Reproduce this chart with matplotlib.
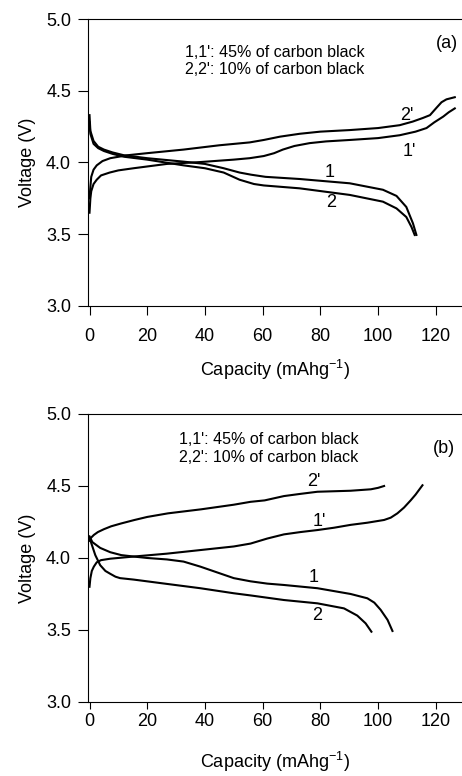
import matplotlib
matplotlib.use("Agg")
import matplotlib.pyplot as plt

plt.rcParams['font.family'] = ['Liberation Sans', 'DejaVu Sans']
plt.rcParams['mathtext.default'] = 'regular'

# panel (a): discharge 1, 2 and charge 1', 2'
a_d1_x = [0, 0.3, 1.4, 3, 5, 8, 12, 20, 32.6, 40, 46.5, 52, 56, 61, 72.8, 90.2, 101.7, 106.4, 109.8, 112.1, 113.3]
a_d1_v = [4.33, 4.22, 4.15, 4.11, 4.09, 4.07, 4.05, 4.03, 4.006, 3.99, 3.96, 3.93, 3.915, 3.90, 3.885, 3.855, 3.81, 3.767, 3.69, 3.576, 3.495]
a_d2_x = [0, 0.3, 1.4, 3, 5, 8, 12, 20, 32.6, 40, 46.5, 52, 57, 60.4, 72.8, 90.2, 101.7, 106.4, 109.8, 111.6, 112.7]
a_d2_v = [4.28, 4.20, 4.13, 4.10, 4.08, 4.06, 4.04, 4.02, 3.98, 3.96, 3.93, 3.88, 3.85, 3.84, 3.82, 3.774, 3.727, 3.68, 3.62, 3.55, 3.495]
a_c1_x = [0, 0.3, 0.6, 1.4, 2.5, 4, 7, 10, 15.3, 26.8, 38.4, 50, 55.5, 60.4, 64, 67, 71, 76.3, 82, 90.2, 100, 107.5, 113, 116.8, 119.5, 122.6, 124.5, 126.6]
a_c1_v = [3.65, 3.75, 3.80, 3.85, 3.88, 3.91, 3.93, 3.945, 3.96, 3.99, 4.003, 4.02, 4.03, 4.045, 4.065, 4.09, 4.115, 4.135, 4.147, 4.157, 4.17, 4.19, 4.215, 4.24, 4.28, 4.32, 4.35, 4.377]
a_c2_x = [0, 0.3, 0.6, 1.4, 2.5, 4.5, 7.2, 12.9, 20, 32.6, 45, 55.5, 60.4, 66, 72.8, 80, 90.2, 100, 107.5, 112, 115.5, 118, 120.2, 122, 123.7, 126.6]
a_c2_v = [3.75, 3.83, 3.90, 3.95, 3.98, 4.01, 4.03, 4.05, 4.065, 4.09, 4.12, 4.14, 4.157, 4.18, 4.20, 4.215, 4.226, 4.24, 4.26, 4.285, 4.31, 4.33, 4.38, 4.42, 4.44, 4.455]

# panel (b)
b_d1_x = [0, 1, 3.7, 7.2, 11, 15.3, 20, 26.8, 32.6, 38.4, 44.2, 50, 55.8, 61.6, 67.4, 79, 90.5, 96.3, 98.7, 100.9, 103.3, 105]
b_d1_v = [4.15, 4.11, 4.07, 4.04, 4.02, 4.01, 4.0, 3.99, 3.975, 3.94, 3.90, 3.86, 3.838, 3.822, 3.8125, 3.79, 3.75, 3.72, 3.69, 3.64, 3.57, 3.493]
b_d2_x = [0, 1, 2, 3.7, 5.5, 7.2, 9, 10.6, 15.3, 26.8, 38.4, 50, 55.8, 67.4, 79, 88.2, 92.8, 95.7, 97.7]
b_d2_v = [4.14, 4.08, 4.02, 3.95, 3.91, 3.89, 3.87, 3.86, 3.85, 3.82, 3.79, 3.755, 3.74, 3.708, 3.685, 3.65, 3.60, 3.546, 3.488]
b_c1_x = [0, 0.3, 0.8, 1.5, 2.5, 4, 7.2, 15.3, 26.8, 38.4, 50, 55.8, 61.6, 67.4, 73.1, 79, 84.7, 90.5, 96.3, 102.1, 104.4, 106.7, 109, 111.3, 113, 115.4]
b_c1_v = [3.80, 3.86, 3.91, 3.94, 3.97, 3.985, 3.995, 4.01, 4.03, 4.055, 4.08, 4.10, 4.135, 4.164, 4.18, 4.194, 4.21, 4.23, 4.245, 4.264, 4.28, 4.31, 4.35, 4.40, 4.44, 4.505]
b_c2_x = [0, 0.5, 1.5, 2.9, 5, 7.5, 11, 15.6, 20, 27.2, 38.7, 50, 55.8, 60.7, 67.4, 73, 79, 90.5, 97.5, 100, 102.1]
b_c2_v = [4.12, 4.14, 4.16, 4.18, 4.20, 4.22, 4.24, 4.264, 4.285, 4.31, 4.338, 4.37, 4.39, 4.40, 4.43, 4.445, 4.46, 4.467, 4.477, 4.487, 4.50]

x_ticks = [0, 20, 40, 60, 80, 100, 120]
y_ticks = [3.0, 3.5, 4.0, 4.5, 5.0]

panels = [
    dict(rect=[0.190, 0.6057, 0.810, 0.3698], tag='(a)', tagpos=(124, 4.83),
         curves=[(a_d1_x, a_d1_v), (a_d2_x, a_d2_v), (a_c1_x, a_c1_v), (a_c2_x, a_c2_v)],
         labels=[("2'", 109.8, 4.33), ("1'", 111, 4.075), ("1", 83.3, 3.927), ("2", 83.9, 3.72)],
         note_y=(4.77, 4.645), note_x=64.2, xlen=6.5, xpad=9, xlabelpad=10),
    dict(rect=[0.190, 0.0954, 0.810, 0.3711], tag='(b)', tagpos=(122.9, 4.76),
         curves=[(b_d1_x, b_d1_v), (b_d2_x, b_d2_v), (b_c1_x, b_c1_v), (b_c2_x, b_c2_v)],
         labels=[("2'", 77.8, 4.53), ("1'", 79.5, 4.25), ("1", 77.8, 3.863), ("2", 78.9, 3.604)],
         note_y=(4.824, 4.699), note_x=62.1, xlen=5, xpad=3, xlabelpad=14),
]

fig = plt.figure(figsize=(4.62, 7.76), dpi=100)

for p in panels:
    ax = fig.add_axes(p['rect'])
    for xs, vs in p['curves']:
        ax.plot(xs, vs, color='black', lw=1.5)
    for txt, x, y in p['labels']:
        ax.text(x, y, txt, fontsize=13, ha='center', va='center')
    ax.text(p['note_x'], p['note_y'][0], "1,1': 45% of carbon black", fontsize=11.5, ha='center', va='center')
    ax.text(p['note_x'], p['note_y'][1], "2,2': 10% of carbon black", fontsize=11.5, ha='center', va='center')
    ax.text(p['tagpos'][0], p['tagpos'][1], p['tag'], fontsize=13, ha='center', va='center')
    ax.set_xlim(-0.6, 129.1)
    ax.set_ylim(3.0, 5.0)
    ax.set_xticks(x_ticks)
    ax.set_yticks(y_ticks)
    ax.set_yticklabels([f'{v:.1f}' for v in y_ticks])
    ax.spines['right'].set_visible(False)
    for s in ['left', 'top', 'bottom']:
        ax.spines[s].set_linewidth(0.8)
    ax.tick_params(axis='both', direction='out', labelsize=13, width=0.8)
    ax.tick_params(axis='y', length=7, pad=5)
    ax.tick_params(axis='x', length=p['xlen'], pad=p['xpad'])
    ax.set_xlabel(r'Capacity (mAhg$^{-1}$)', fontsize=13, labelpad=p['xlabelpad'])
    ax.set_ylabel('Voltage (V)', fontsize=13, labelpad=7)

fig.savefig('out.png', dpi=100)
